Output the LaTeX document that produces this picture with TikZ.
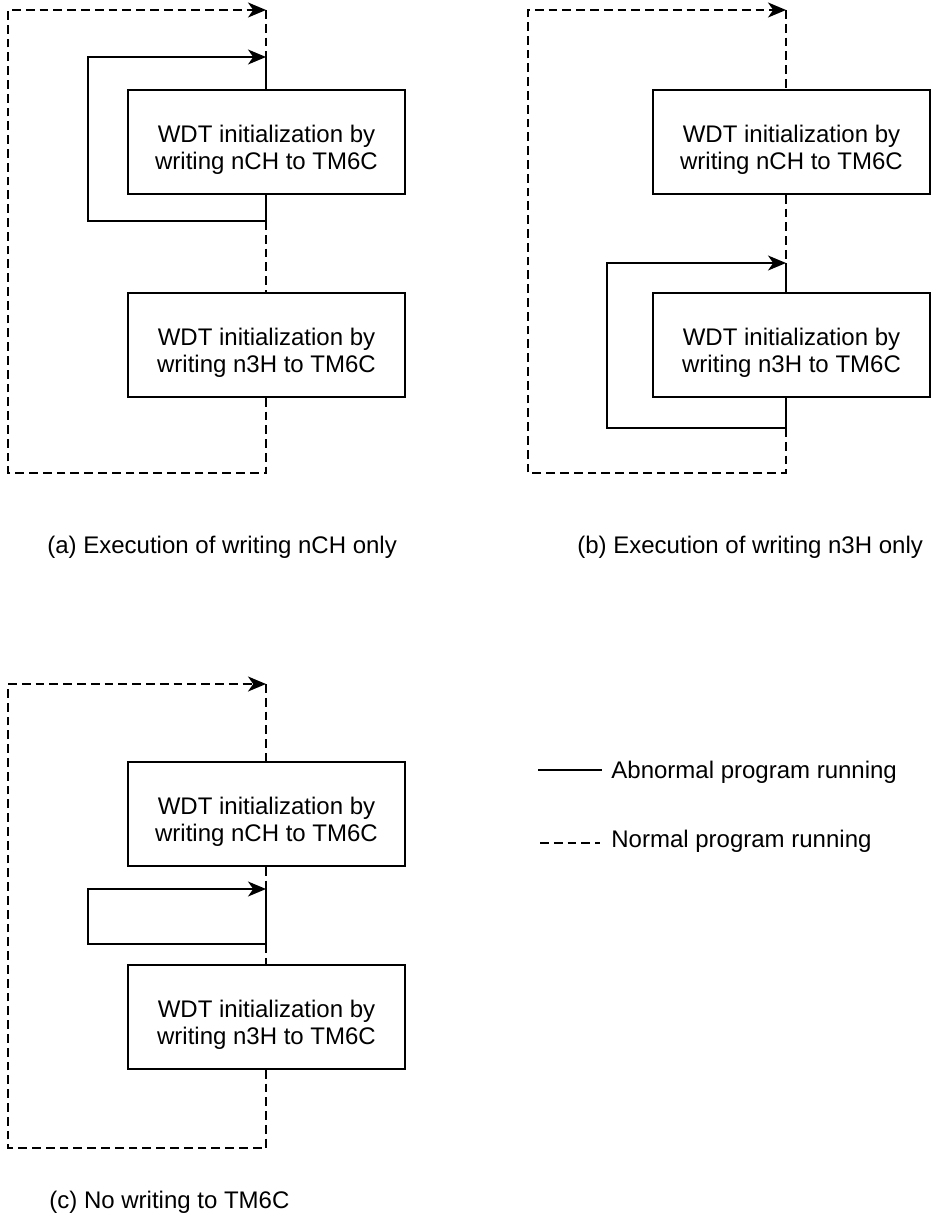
\documentclass[tikz,border=0pt]{standalone}
\usepackage{fontspec}
\setmainfont{Liberation Sans}
\usetikzlibrary{arrows.meta}
\newcommand\boxtext[2]{\raisebox{-4.5pt}[\height][\depth]{\begin{tabular}{@{}c@{}}#1\\#2\end{tabular}}}
\begin{document}
\begin{tikzpicture}[x=0.5pt,y=-0.5pt,
  box/.style={draw,line width=0.7pt,minimum width=138.5pt,minimum height=52pt,inner sep=0pt,font=\fontsize{12}{13.5}\selectfont},
  solidln/.style={line width=0.85pt},
  dashln/.style={line width=1.05pt,dash pattern=on 4.4pt off 2.5pt},
  tip/.style={-{Stealth[length=9pt,width=7.5pt,inset=2.6pt]}},
  lbl/.style={font=\fontsize{12}{14}\selectfont,inner sep=0pt,anchor=base west}]
\useasboundingbox (0,0) rectangle (932,1220);

% ---------- panel (a) ----------
\node[box] (a1) at (266.5,142) {\boxtext{WDT initialization by}{writing nCH to TM6C}};
\node[box] (a2) at (266.5,345) {\boxtext{WDT initialization by}{writing n3H to TM6C}};
\coordinate (aT) at (266,10);
\coordinate (aTL) at (8,10);
\coordinate (aBL) at (8,473);
\coordinate (aBR) at (266,473);
\coordinate (aLt) at (266,57);
\coordinate (aLb) at (266,221);
\coordinate (aLtl) at (88,57);
\coordinate (aLbl) at (88,221);
\draw[dashln,tip] (a2.south -| aT) -- (aBR) -- (aBL) -- (aTL) -- (aT);
\draw[dashln] (aT) -- (aLt);
\draw[solidln] (aLt) -- (a1.north -| aT);
\draw[solidln,tip] (a1.south -| aT) -- (aLb) -- (aLbl) -- (aLtl) -- (aLt);
\draw[dashln] (aLb) -- (a2.north -| aT);
\node[lbl] (capa) at (47,553) {(a) Execution of writing nCH only};

% ---------- panel (b) ----------
\node[box] (b1) at (791.5,142) {\boxtext{WDT initialization by}{writing nCH to TM6C}};
\node[box] (b2) at (791.5,345) {\boxtext{WDT initialization by}{writing n3H to TM6C}};
\coordinate (bT) at (786,10);
\coordinate (bTL) at (528,10);
\coordinate (bBL) at (528,473);
\coordinate (bBR) at (786,473);
\coordinate (bLt) at (786,263);
\coordinate (bLb) at (786,428);
\coordinate (bLtl) at (607,263);
\coordinate (bLbl) at (607,428);
\draw[dashln,tip] (bLb) -- (bBR) -- (bBL) -- (bTL) -- (bT);
\draw[dashln] (bT) -- (b1.north -| bT);
\draw[dashln] (b1.south -| bT) -- (bLt);
\draw[solidln] (bLt) -- (b2.north -| bT);
\draw[solidln,tip] (b2.south -| bT) -- (bLb) -- (bLbl) -- (bLtl) -- (bLt);
\node[lbl] (capb) at (577,553) {(b) Execution of writing n3H only};

% ---------- panel (c) ----------
\node[box] (c1) at (266.5,814) {\boxtext{WDT initialization by}{writing nCH to TM6C}};
\node[box] (c2) at (266.5,1017) {\boxtext{WDT initialization by}{writing n3H to TM6C}};
\coordinate (cT) at (266,684);
\coordinate (cTL) at (8,684);
\coordinate (cBL) at (8,1148);
\coordinate (cBR) at (266,1148);
\coordinate (cLt) at (266,889);
\coordinate (cLb) at (266,944);
\coordinate (cLtl) at (88,889);
\coordinate (cLbl) at (88,944);
\draw[dashln,tip] (c2.south -| cT) -- (cBR) -- (cBL) -- (cTL) -- (cT);
\draw[dashln] (cT) -- (c1.north -| cT);
\draw[dashln] (c1.south -| cT) -- (cLt);
\draw[solidln,tip] (cLt) -- (cLb) -- (cLbl) -- (cLtl) -- (cLt);
\draw[dashln] (cLb) -- (c2.north -| cT);
\node[lbl] (capc) at (49,1208) {(c) No writing to TM6C};

% ---------- legend ----------
\node[lbl] (lg1) at (611,778) {Abnormal program running};
\node[lbl] (lg2) at (611,847) {Normal program running};
\coordinate (lg1s) at (538,770);
\coordinate (lg2s) at (540,843);
\draw[solidln,shorten >=4.5pt] (lg1s) -- (lg1s -| lg1.west);
\draw[dashln,shorten >=5.5pt] (lg2s) -- (lg2s -| lg2.west);
\end{tikzpicture}
\end{document}
